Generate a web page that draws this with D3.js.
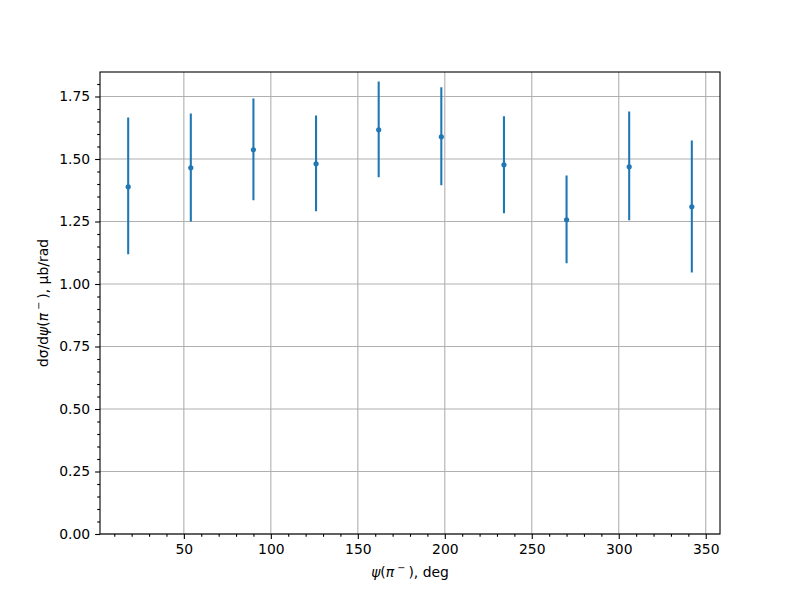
<!DOCTYPE html>
<html><head><meta charset="utf-8">
<script src="https://cdn.jsdelivr.net/npm/d3@7"></script>
<style>body{margin:0;background:#fff}svg{display:block}text{font-family:"DejaVu Sans",sans-serif}</style>
</head><body>
<svg id="c" width="800" height="600"></svg>
<script>
const psi = [18, 54, 90, 126, 162, 198, 234, 270, 306, 342];
const values = [1.389, 1.465, 1.537, 1.481, 1.617, 1.589, 1.477, 1.257, 1.469, 1.309];
const errLow = [0.270, 0.215, 0.202, 0.190, 0.190, 0.194, 0.194, 0.174, 0.214, 0.263];
const errHigh = [0.277, 0.217, 0.205, 0.193, 0.193, 0.198, 0.194, 0.177, 0.221, 0.265];
const xTicks = [50, 100, 150, 200, 250, 300, 350];
const yTicks = [0, 0.25, 0.5, 0.75, 1.0, 1.25, 1.5, 1.75];

const L = 100, R = 720, T = 72, B = 534;
const svg = d3.select("#c");
const x = d3.scaleLinear().domain([1.8, 358.2]).range([L, R]);
const y = d3.scaleLinear().domain([0, 1.848]).range([B, T]);

// grid
const g = svg.append("g");
g.selectAll("line.gx").data(xTicks).join("line")
  .attr("x1", d => x(d)).attr("x2", d => x(d)).attr("y1", T).attr("y2", B)
  .attr("stroke", "#b0b0b0").attr("stroke-width", 1.1);
g.selectAll("line.gy").data(yTicks).join("line")
  .attr("y1", d => y(d)).attr("y2", d => y(d)).attr("x1", L).attr("x2", R)
  .attr("stroke", "#b0b0b0").attr("stroke-width", 1.1);

// axes
const xAxis = d3.axisBottom(x).tickValues(xTicks).tickFormat(d3.format("d")).tickSize(4.9).tickPadding(4.9);
const xMinor = d3.axisBottom(x).tickValues(d3.range(10, 360, 10).filter(v => v % 50 !== 0)).tickFormat("").tickSize(2.8);
const yAxis = d3.axisLeft(y).tickValues(yTicks).tickFormat(d3.format(".2f")).tickSize(4.9).tickPadding(4.9);
const yMinor = d3.axisLeft(y).tickValues(d3.range(0, 37).map(i => i * 0.05).filter(v => Math.abs(v / 0.25 - Math.round(v / 0.25)) > 1e-6 && v <= 1.848)).tickFormat("").tickSize(2.8);

function style(sel) {
  sel.select(".domain").remove();
  sel.selectAll("line").attr("stroke", "#000").attr("stroke-width", 1.1);
  sel.selectAll("text").attr("font-size", 13.9).attr("fill", "#000").attr("font-family", "DejaVu Sans");
}
svg.append("g").attr("transform", `translate(0,${B})`).call(xAxis).call(style);
svg.append("g").attr("transform", `translate(0,${B})`).call(xMinor).call(style);
svg.append("g").attr("transform", `translate(${L},0)`).call(yAxis).call(style);
svg.append("g").attr("transform", `translate(${L},0)`).call(yMinor).call(style);

// data
const data = psi.map((p, i) => ({p, v: values[i], lo: errLow[i], hi: errHigh[i]}));
svg.append("g").selectAll("line").data(data).join("line")
  .attr("x1", d => x(d.p)).attr("x2", d => x(d.p))
  .attr("y1", d => y(d.v - d.lo)).attr("y2", d => y(d.v + d.hi))
  .attr("stroke", "#1f77b4").attr("stroke-width", 2.08);
svg.append("g").selectAll("circle").data(data).join("circle")
  .attr("cx", d => x(d.p)).attr("cy", d => y(d.v)).attr("r", 2.6)
  .attr("fill", "#1f77b4");

// frame
svg.append("rect").attr("x", L).attr("y", T).attr("width", R - L).attr("height", B - T)
  .attr("fill", "none").attr("stroke", "#000").attr("stroke-width", 1.1);

// labels
const xl = svg.append("text").attr("x", (L + R) / 2).attr("y", 577).attr("text-anchor", "middle").attr("font-size", 13.9);
xl.append("tspan").attr("font-style", "italic").text("ψ");
xl.append("tspan").text("(");
xl.append("tspan").attr("font-style", "italic").text("π");
xl.append("tspan").attr("font-size", 9.7).attr("dy", -6).text(" − ");
xl.append("tspan").attr("dy", 6).text("), deg");

const yl = svg.append("text").attr("transform", `translate(48,${(T + B) / 2}) rotate(-90)`).attr("text-anchor", "middle").attr("font-size", 13.9);
yl.append("tspan").text("dσ/d");
yl.append("tspan").attr("font-style", "italic").text("ψ");
yl.append("tspan").text("(");
yl.append("tspan").attr("font-style", "italic").text("π");
yl.append("tspan").attr("font-size", 9.7).attr("dy", -6).text(" − ");
yl.append("tspan").attr("dy", 6).text("), μb/rad");
</script>
</body></html>
